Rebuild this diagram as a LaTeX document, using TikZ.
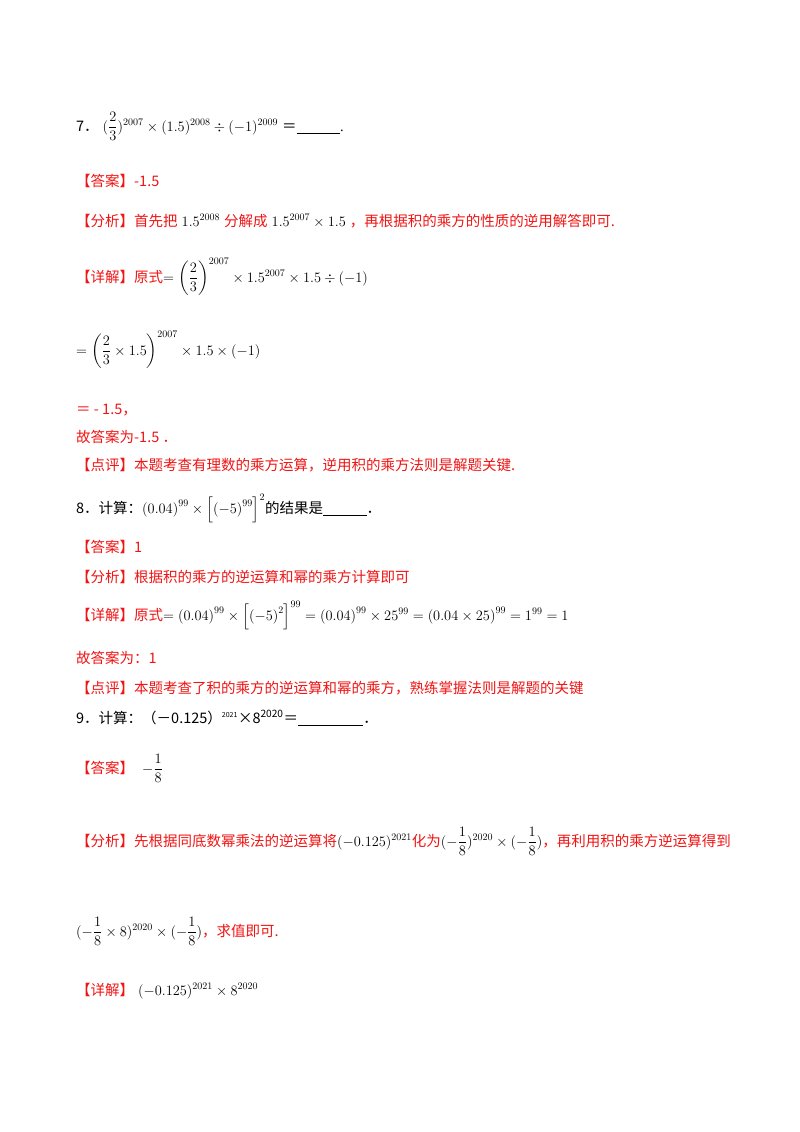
\documentclass[tikz,border=0pt]{standalone}
\usepackage{fontspec}
\usepackage{amsmath}
\newfontfamily\cjk{Noto Sans CJK SC}
\setmainfont{Liberation Serif}
\definecolor{rd}{RGB}{240,20,20}
\newcommand{\R}[1]{\textcolor{rd}{\cjk #1}}
\newcommand{\B}[1]{{\cjk #1}}
\begin{document}
\begin{tikzpicture}[x=1pt,y=-1pt,
 t/.style={anchor=base west,inner sep=0pt,font=\fontsize{14.5}{17}\selectfont}]
\useasboundingbox (0,0) rectangle (800,1132);
\node[t] (l1) at (76,131) {\B{7．}$\;(\dfrac{2}{3})^{2007}\times(1.5)^{2008}\div(-1)^{2009}\;$\B{＝}\underline{\hspace{3em}}.};
\node[t] (l2) at (76,186) {\R{【答案】-1.5}};
\node[t] (l3) at (76,226) {\R{【分析】首先把}$\;1.5^{2008}\;$\R{分解成}$\;1.5^{2007}\times1.5\;$\R{，再根据积的乘方的性质的逆用解答即可.}};
\node[t] (l4) at (76,282) {\R{【详解】原式}$=\left(\dfrac{2}{3}\right)^{2007}\times1.5^{2007}\times1.5\div\left(-1\right)$};
\node[t] (l5) at (76,355) {$=\left(\dfrac{2}{3}\times1.5\right)^{2007}\times1.5\times\left(-1\right)$};
\node[t] (l6) at (76,414) {\R{＝ - 1.5，}};
\node[t] (l7) at (76,442) {\R{故答案为-1.5 ．}};
\node[t] (l8) at (76,470) {\R{【点评】本题考查有理数的乘方运算，逆用积的乘方法则是解题关键.}};
\node[t] (l9) at (76,513) {\B{8．计算：}$\left(0.04\right)^{99}\times\left[\left(-5\right)^{99}\right]^{2}$\B{的结果是}\underline{\hspace{3em}}\B{．}};
\node[t] (l10) at (76,552) {\R{【答案】1}};
\node[t] (l11) at (76,582) {\R{【分析】根据积的乘方的逆运算和幂的乘方计算即可}};
\node[t] (l12) at (76,620) {\R{【详解】原式}$=\left(0.04\right)^{99}\times\left[\left(-5\right)^{2}\right]^{99}=\left(0.04\right)^{99}\times25^{99}=\left(0.04\times25\right)^{99}=1^{99}=1$};
\node[t] (l13) at (76,663) {\R{故答案为：1}};
\node[t] (l14) at (76,693) {\R{【点评】本题考查了积的乘方的逆运算和幂的乘方，熟练掌握法则是解题的关键}};
\node[t] (l15) at (76,723) {\B{9．计算：（－0.125）\textsuperscript{\scriptsize 2021}×8\textsuperscript{2020}＝}\underline{\hspace{4.5em}}\B{．}};
\node[t] (l16) at (76,773) {\R{【答案】}$\;\;-\dfrac{1}{8}$};
\node[t] (l17) at (76,846) {\R{【分析】先根据同底数幂乘法的逆运算将}$(-0.125)^{2021}$\R{化为}$(-\dfrac{1}{8})^{2020}\times(-\dfrac{1}{8})$\R{，再利用积的乘方逆运算得到}};
\node[t] (l18) at (76,936) {$(-\dfrac{1}{8}\times8)^{2020}\times(-\dfrac{1}{8})$\R{，求值即可.}};
\node[t] (l19) at (76,995) {\R{【详解】}$\;(-0.125)^{2021}\times8^{2020}$};
\end{tikzpicture}
\end{document}
